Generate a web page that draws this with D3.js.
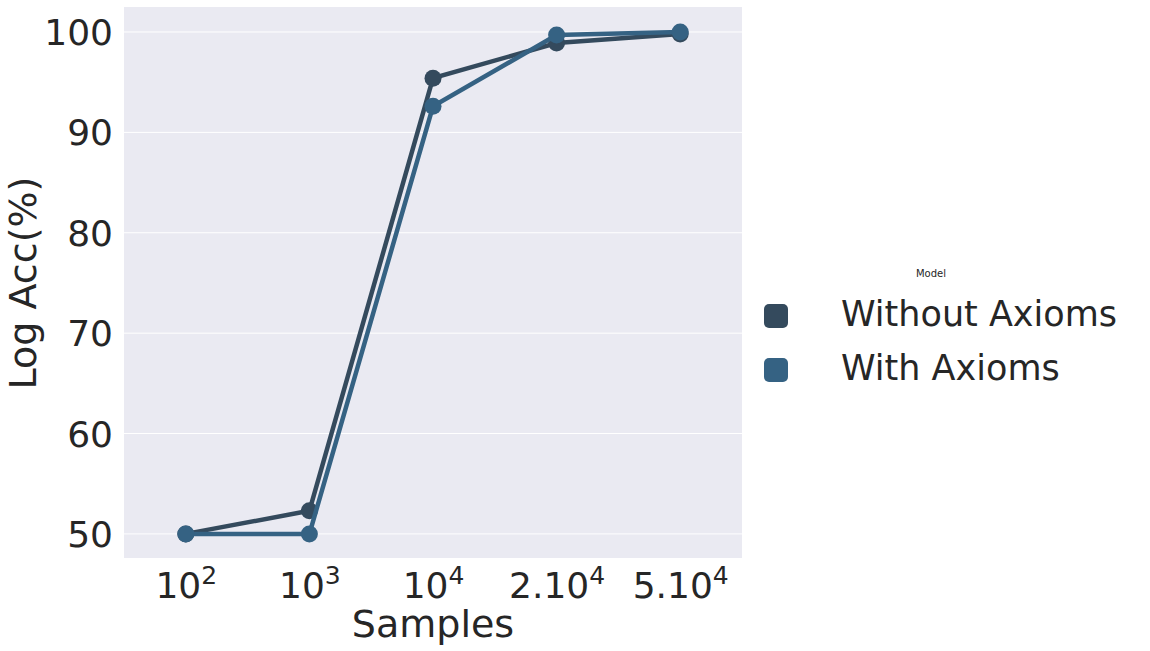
<!DOCTYPE html>
<html><head><meta charset="utf-8">
<script src="https://cdn.jsdelivr.net/npm/d3@7"></script>
<style>body{margin:0;background:#fff}text{font-family:"DejaVu Sans",sans-serif;fill:#262626}</style>
</head><body>
<svg id="c" width="1150" height="651"></svg>
<script>
const categories = ["10^2", "10^3", "10^4", "2.10^4", "5.10^4"];
const withoutAxioms = [50.0, 52.3, 95.4, 98.9, 99.8];
const withAxioms = [50.0, 50.0, 92.6, 99.7, 100.0];
const yTicks = [50, 60, 70, 80, 90, 100];
const seriesNames = ["Without Axioms", "With Axioms"];
const seriesColors = ["#344a5d", "#356283"];

const svg = d3.select("#c");
const L = 124, R = 742, T = 7, B = 558;
const x = d3.scalePoint().domain(categories).range([L, R]).padding(0.5);
const y = d3.scaleLinear().domain([47.6, 102.49]).range([B, T]);

svg.append("rect").attr("x", L).attr("y", T).attr("width", R - L).attr("height", B - T).attr("fill", "#eaeaf2");
svg.append("g").selectAll("line").data(yTicks).join("line")
  .attr("x1", L).attr("x2", R).attr("y1", d => y(d)).attr("y2", d => y(d))
  .attr("stroke", "#fff").attr("stroke-width", 1);

// y axis labels
const yAxis = d3.axisLeft(y).tickValues(yTicks).tickSize(0).tickPadding(11);
const ga = svg.append("g").attr("transform", `translate(${L},0)`).call(yAxis);
ga.select(".domain").remove();
ga.selectAll("text").style("font-size", "36px").attr("fill", "#262626").attr("dy", "0.35em");

// x axis labels with superscripts
const xAxis = d3.axisBottom(x).tickSize(0).tickPadding(0);
const gx = svg.append("g").attr("transform", `translate(0,${B})`).call(xAxis);
gx.select(".domain").remove();
gx.selectAll("text").each(function(d) {
  const t = d3.select(this).text("").style("font-size", "36px").attr("fill", "#262626").attr("y", 40).attr("dy", null);
  const [base, exp] = d.split("^");
  t.append("tspan").text(base);
  t.append("tspan").text(exp).style("font-size", "25px").attr("dy", "-14");
});

// lines
const series = [withoutAxioms, withAxioms];
const line = d3.line().x((d, i) => x(categories[i])).y(d => y(d));
series.forEach((s, k) => {
  svg.append("path").datum(s).attr("d", line).attr("fill", "none")
    .attr("stroke", seriesColors[k]).attr("stroke-width", 4.5);
  svg.append("g").selectAll("circle").data(s).join("circle")
    .attr("cx", (d, i) => x(categories[i])).attr("cy", d => y(d)).attr("r", 8.5)
    .attr("fill", seriesColors[k]);
});

// axis titles
svg.append("text").attr("x", 433).attr("y", 637).attr("text-anchor", "middle").style("font-size", "38px").text("Samples");
svg.append("text").attr("transform", "translate(36,283) rotate(-90)").attr("text-anchor", "middle").style("font-size", "38px").text("Log Acc(%)");

// legend
svg.append("text").attr("x", 931).attr("y", 277).attr("text-anchor", "middle").style("font-size", "10px").text("Model");
seriesNames.forEach((n, k) => {
  const cy = 316 + k * 54;
  svg.append("rect").attr("x", 764).attr("y", cy - 12).attr("width", 24).attr("height", 24).attr("rx", 5).attr("fill", seriesColors[k]);
  svg.append("text").attr("x", 841).attr("y", cy + 10).style("font-size", "35px").text(n);
});
</script>
</body></html>
